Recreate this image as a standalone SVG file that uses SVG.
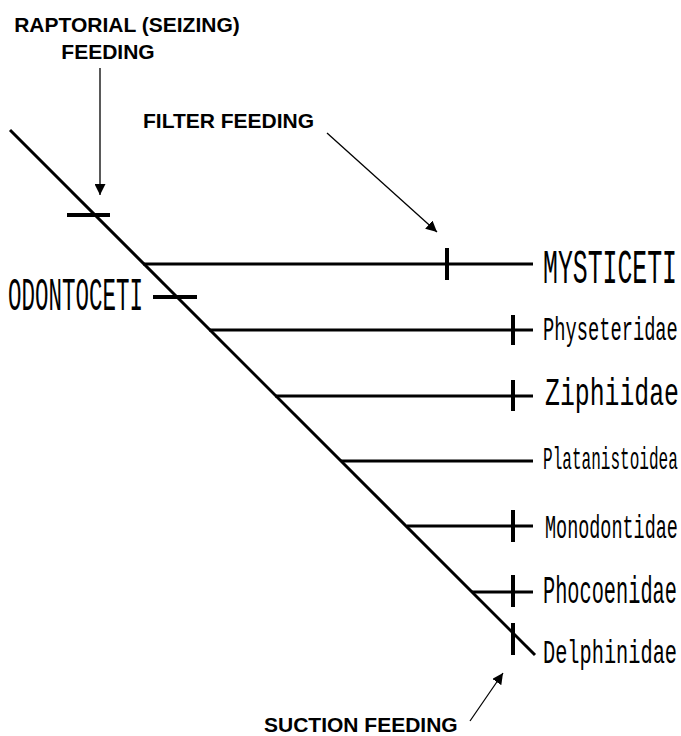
<svg xmlns="http://www.w3.org/2000/svg" width="681" height="736" viewBox="0 0 681 736">
<style>
.ln{stroke:#000;stroke-width:3;fill:none}
.tk{stroke:#000;stroke-width:4;fill:none}
.ar{stroke:#000;stroke-width:1.3;fill:none}
.cap{font-family:"Liberation Sans",Arial,sans-serif;font-weight:bold;font-size:21px;fill:#000}
.tx{font-family:"Liberation Mono","Courier New",monospace;fill:#000}
</style>
<defs>
<marker id="ah2" viewBox="0 0 10 10" refX="10" refY="5" markerWidth="11" markerHeight="11" markerUnits="userSpaceOnUse" orient="auto">
<path d="M0,0 L10,5 L0,10 z" fill="#000"/>
</marker>
</defs>
<g id="connectors">
<line class="ln" x1="10" y1="130" x2="535" y2="655"/>
<line class="ln" x1="143" y1="264" x2="533" y2="264"/>
<line class="ln" x1="209" y1="330" x2="533" y2="330"/>
<line class="ln" x1="275" y1="396" x2="533" y2="396"/>
<line class="ln" x1="341" y1="461" x2="533" y2="461"/>
<line class="ln" x1="407" y1="526" x2="533" y2="526"/>
<line class="ln" x1="472" y1="592" x2="533" y2="592"/>
<line class="tk" x1="67" y1="215" x2="110" y2="215"/>
<line class="tk" x1="153" y1="297" x2="197" y2="297"/>
<line class="tk" x1="447" y1="248" x2="447" y2="280"/>
<line class="tk" x1="513" y1="315" x2="513" y2="345"/>
<line class="tk" x1="513" y1="380" x2="513" y2="411"/>
<line class="tk" x1="513" y1="510" x2="513" y2="542"/>
<line class="tk" x1="513" y1="575" x2="513" y2="607"/>
<line class="tk" x1="513" y1="623" x2="513" y2="655"/>
<line class="ar" x1="100" y1="68" x2="100" y2="195" marker-end="url(#ah2)"/>
<line class="ar" x1="327" y1="133" x2="437" y2="232" marker-end="url(#ah2)"/>
<line class="ar" x1="470" y1="721" x2="503" y2="673" marker-end="url(#ah2)"/>
</g>
<g id="raptorial">
<text class="cap" x="127" y="32" text-anchor="middle">RAPTORIAL (SEIZING)</text>
<text class="cap" x="108" y="59" text-anchor="middle">FEEDING</text>
</g>
<g id="filter"><text class="cap" x="143" y="128">FILTER FEEDING</text></g>
<g id="suction"><text class="cap" x="264" y="732">SUCTION FEEDING</text></g>
<g id="odontoceti"><text class="tx" transform="translate(8,310) scale(0.489,1)" font-size="46">ODONTOCETI</text></g>
<g id="mysticeti"><text class="tx" transform="translate(543,283) scale(0.517,1)" font-size="48">MYSTICETI</text></g>
<g id="physeteridae"><text class="tx" transform="translate(543,340) scale(0.551,1)" font-size="34">Physeteridae</text></g>
<g id="ziphiidae"><text class="tx" transform="translate(545,405) scale(0.653,1)" font-size="38">Ziphiidae</text></g>
<g id="platanistoidea"><text class="tx" transform="translate(543,469) scale(0.502,1)" font-size="32">Platanistoidea</text></g>
<g id="monodontidae"><text class="tx" transform="translate(545,538) scale(0.543,1)" font-size="34">Monodontidae</text></g>
<g id="phocoenidae"><text class="tx" transform="translate(543,603) scale(0.534,1)" font-size="38">Phocoenidae</text></g>
<g id="delphinidae"><text class="tx" transform="translate(543,663) scale(0.597,1)" font-size="34">Delphinidae</text></g>
</svg>
